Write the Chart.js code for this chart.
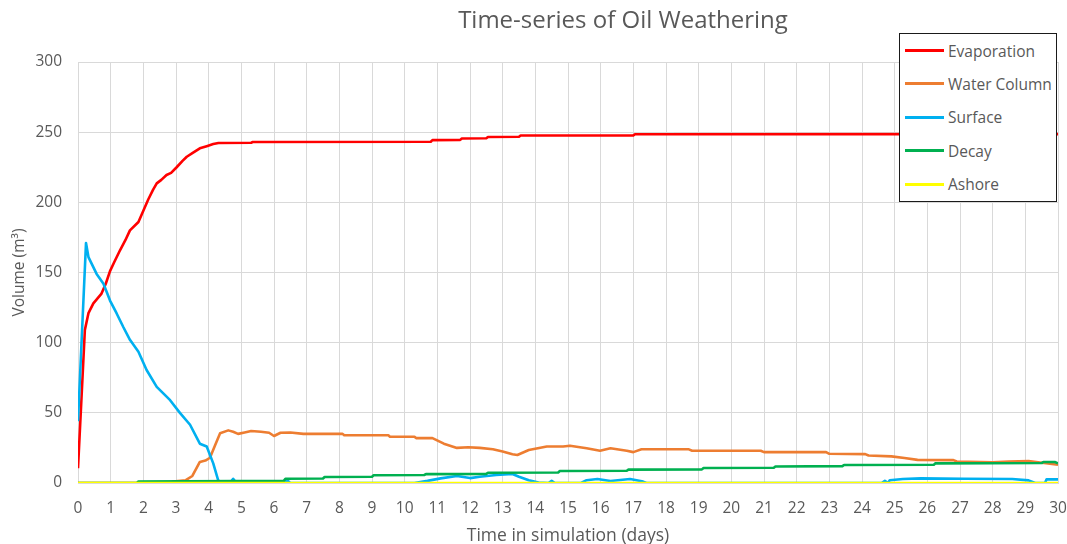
<!DOCTYPE html>
<html>
<head>
<meta charset="utf-8">
<script src="https://cdn.jsdelivr.net/npm/chart.js@4"></script>
<style>
  html, body { margin: 0; padding: 0; background: #ffffff; }
  #wrap { position: relative; width: 1067px; height: 544px; overflow: hidden; }
  #chart { position: absolute; left: 0; top: 0; }
  #title { position: absolute; left: 179px; width: 888px; top: 3px; text-align: center;
           font-family: "Open Sans", sans-serif; font-size: 24px; color: #595959; line-height: 32px; }
  #legend { position: absolute; left: 899px; top: 33px; width: 158px; height: 169px; box-sizing: border-box;
            border: 1.5px solid #1a1a1a; background: #ffffff; overflow: hidden; }
  .li { position: absolute; left: 0; width: 156px; height: 20px; }
  .li .sw { position: absolute; left: 5px; top: 8.5px; width: 39px; height: 3px; }
  .li .tx { position: absolute; left: 48px; top: 0; line-height: 20px; white-space: nowrap;
            font-family: "Open Sans", sans-serif; font-size: 15.5px; color: #595959; }
</style>
</head>
<body>
<div id="wrap">
  <canvas id="chart" width="1067" height="544"></canvas>
  <div id="title">Time-series of Oil Weathering</div>
  <div id="legend"></div>
</div>
<script>
// ---- data (days, m^3) ----
const seriesNames = ["Evaporation", "Water Column", "Surface", "Decay", "Ashore"];
const seriesColors = ["#ff0000", "#ed7d31", "#00b0f0", "#00b050", "#ffff00"];

const evaporation = [[0,10.5],[0.21,109],[0.32,121],[0.47,128],[0.72,135],[0.85,142],[0.98,151],[1.1,157],
  [1.29,166],[1.45,173],[1.59,180],[1.85,186],[2.0,194],[2.15,202],[2.3,209],[2.41,213.5],[2.55,216],
  [2.71,219.5],[2.85,221],[3.02,225],[3.2,229.5],[3.33,232.5],[3.5,235],[3.73,238.5],[3.94,240],
  [4.14,241.5],[4.3,242.3],[5.3,242.5],[5.35,243],[10.8,243.2],[10.85,244.3],[11.7,244.5],[11.75,245.5],
  [12.5,245.7],[12.55,246.6],[13.5,246.7],[13.55,247.6],[17.0,247.7],[17.05,248.5],[30,248.6]];

const waterColumn = [[0,0],[2.85,0],[2.9,1],[3.3,2],[3.5,5],[3.73,15],[3.9,16],[4.04,18],[4.2,27],
  [4.35,35.4],[4.6,37.5],[4.75,36.5],[4.9,35],[5.1,36],[5.3,37],[5.6,36.5],[5.85,35.8],[6.0,33.5],
  [6.2,35.8],[6.5,36],[6.9,35],[8.1,35],[8.15,34],[9.5,34],[9.55,33],[10.3,33],[10.35,32],[10.85,32],
  [11.2,28],[11.6,25],[11.95,25.5],[12.3,25],[12.7,24],[13.0,22.5],[13.3,20.5],[13.45,20],[13.8,23.5],
  [14.35,26],[14.85,26],[15.06,26.6],[15.57,24.8],[15.98,23],[16.3,24.8],[16.8,23],[17.0,22],[17.25,24],
  [18.7,24],[18.8,23],[20.9,23],[21.0,22],[22.9,22],[23.0,20.8],[24.1,20.6],[24.2,19.6],[24.9,19],
  [25.3,17.8],[25.7,16.5],[26.8,16.3],[26.9,15.3],[28.0,14.8],[28.5,15.3],[29.1,15.7],[29.45,14.6],[30,13]];

const surface = [[0,44],[0.245,171],[0.32,161],[0.57,149],[0.78,142],[0.98,130],[1.18,121],[1.39,111],
  [1.59,102],[1.85,93.5],[2.1,80.5],[2.41,68.5],[2.82,59],[3.12,50],[3.43,41.5],[3.73,28],[3.94,26],
  [4.14,14],[4.29,2],[4.4,0],[4.65,0],[4.75,3],[4.85,0],[6.3,0],[6.4,2],[6.5,0],[10.3,0],[10.7,1.5],
  [11.1,3.3],[11.6,5],[12.0,3.5],[12.3,4.5],[12.8,5.7],[13.3,6.4],[13.5,4.5],[13.8,2],[14.1,0.4],[14.4,0],
  [14.5,1.5],[14.6,0],[15.4,0],[15.57,2],[15.9,2.8],[16.3,1.4],[16.9,2.8],[17.3,1],[17.4,0],[24.6,0],
  [24.7,1.5],[24.8,0],[24.85,2],[25.25,2.8],[25.8,3.3],[27.1,3],[28.6,2.8],[29.1,1.9],[29.3,0],[29.6,0],
  [29.65,2.6],[30,2.6]];

const decay = [[0,0],[1.8,0],[1.85,1],[6.3,1.5],[6.35,3],[7.5,3.2],[7.55,4.3],[9.0,4.5],[9.05,5.5],
  [10.6,5.7],[10.65,6.3],[12.5,6.5],[12.55,7.3],[14.7,7.5],[14.75,8.5],[16.8,8.7],[16.85,9.5],[19.1,9.7],
  [19.15,10.7],[21.3,10.9],[21.35,11.8],[23.4,12],[23.45,12.8],[26.2,13],[26.25,14],[29.5,14.2],
  [29.55,15],[29.9,15],[30,14]];

const ashore = [[0,0],[30,0]];

const xTicks = { min: 0, max: 30, step: 1 };
const yTicks = { min: 0, max: 300, step: 50 };
const xTitle = "Time in simulation (days)";
const yTitle = "Volume (m\u00b3)";

// ---- build ----
const allSeries = [evaporation, waterColumn, surface, decay, ashore];
const datasets = allSeries.map((s, i) => ({
  label: seriesNames[i],
  data: s.map(p => ({ x: p[0], y: p[1] })),
  borderColor: seriesColors[i],
  backgroundColor: seriesColors[i],
  borderWidth: 2.6,
  pointRadius: 0,
  tension: 0,
  borderJoinStyle: 'round',
  fill: false,
  order: 5 - i
}));

const tickFont = { family: "'Open Sans', sans-serif", size: 15.5 };
const gridColor = '#d9d9d9';
const textColor = '#595959';

new Chart(document.getElementById('chart'), {
  type: 'line',
  data: { datasets },
  options: {
    responsive: false,
    animation: false,
    layout: { padding: { left: 8, right: 9, top: 62, bottom: 0 } },
    plugins: { legend: { display: false }, title: { display: false }, tooltip: { enabled: false } },
    scales: {
      x: {
        type: 'linear', min: xTicks.min, max: xTicks.max,
        ticks: { stepSize: xTicks.step, font: tickFont, color: textColor, padding: 16, maxRotation: 0, autoSkip: false },
        grid: { color: gridColor, drawTicks: false },
        border: { display: true, color: gridColor },
        title: { display: true, text: xTitle, font: { family: "'Open Sans', sans-serif", size: 17.5 }, color: textColor, padding: { top: -3, bottom: -3 } },
        afterFit(s) { s.height = 61; s.paddingLeft = 0; s.paddingRight = 0; }
      },
      y: {
        min: yTicks.min, max: yTicks.max,
        ticks: { stepSize: yTicks.step, font: tickFont, color: textColor, padding: 16 },
        grid: { color: gridColor, drawTicks: false },
        border: { display: true, color: gridColor },
        title: { display: true, text: yTitle, font: { family: "'Open Sans', sans-serif", size: 15.5 }, color: textColor, padding: { top: 2, bottom: 0 } },
        afterFit(s) { s.width = 70; s.paddingTop = 0; s.paddingBottom = 0; }
      }
    }
  }
});

// ---- legend (HTML, real text) ----
const legend = document.getElementById('legend');
seriesNames.forEach((name, i) => {
  const row = document.createElement('div');
  row.className = 'li';
  row.style.top = (6.5 + i * 33.4) + 'px';
  const sw = document.createElement('div');
  sw.className = 'sw';
  sw.style.background = seriesColors[i];
  const tx = document.createElement('div');
  tx.className = 'tx';
  tx.textContent = name;
  row.appendChild(sw); row.appendChild(tx);
  legend.appendChild(row);
});
</script>
</body>
</html>
